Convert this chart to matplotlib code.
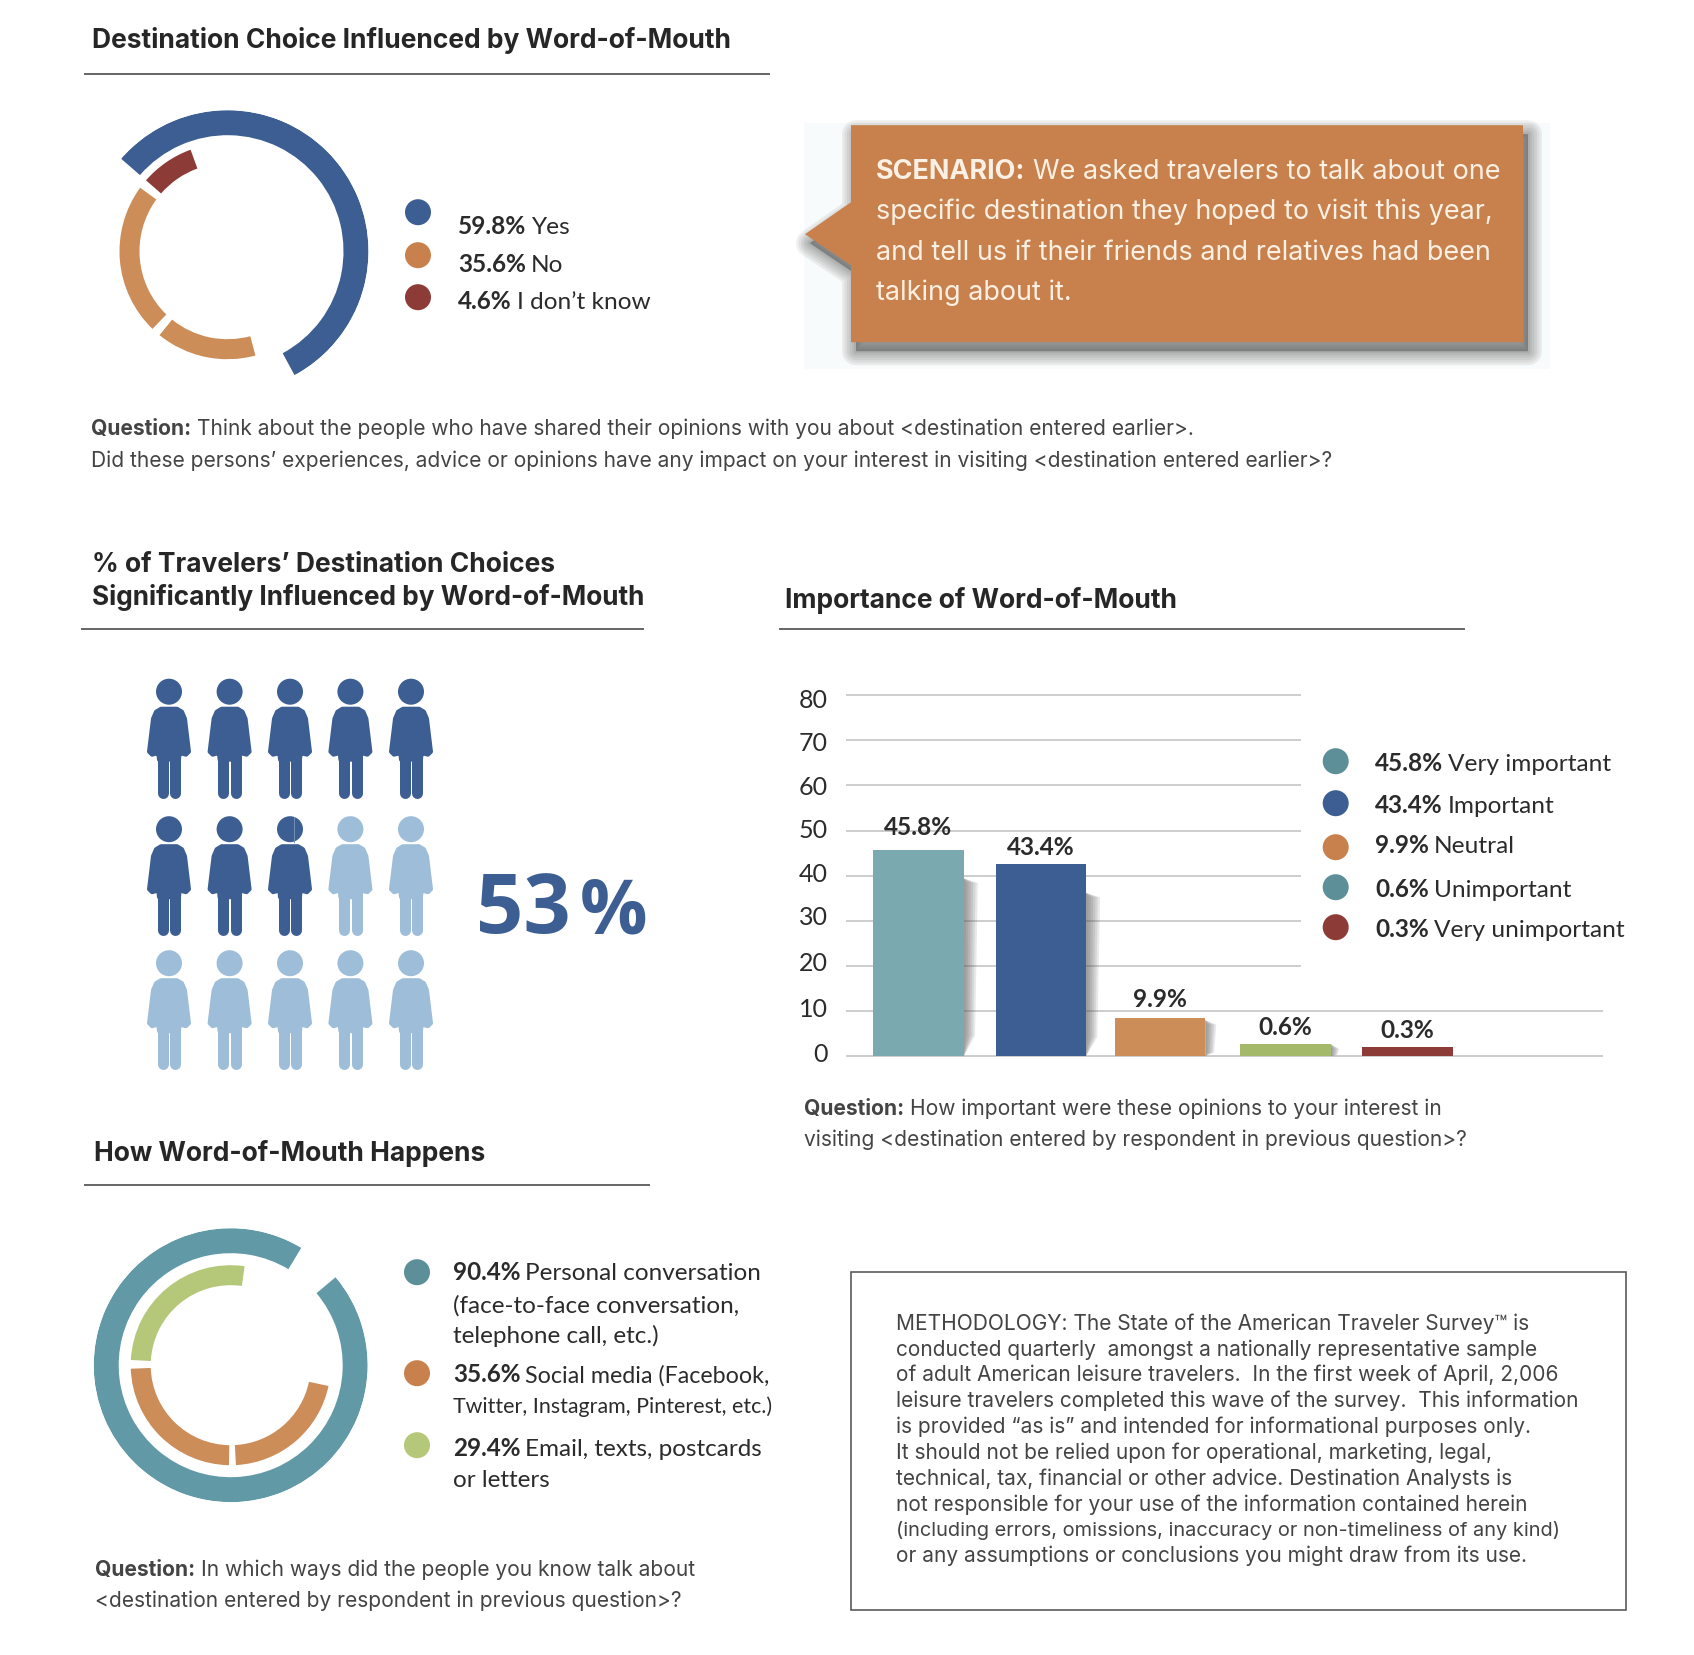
import numpy as np
import matplotlib
matplotlib.use('Agg')
import matplotlib.pyplot as plt
from matplotlib.patches import Polygon, Rectangle, Circle

# Chart values
choice_labels = ['Yes', 'No', "I don\u2019t know"]
choice_values = ['59.8%', '35.6%', '4.6%']
# ring arcs as drawn, in degrees (start, span)
yes_arcs = [(-61.6, 200.6)]
no_arcs = [(144, 82), (231, 54)]
dk_arcs = [(110, 29)]

icons_total = 15
icons_filled = 8
icons_value = '53'
icons_unit = '%'

bar_labels = ['Very important', 'Important', 'Neutral', 'Unimportant', 'Very unimportant']
bar_texts = ['45.8%', '43.4%', '9.9%', '0.6%', '0.3%']
bar_heights = [45.8, 42.6, 8.4, 2.8, 2.0]
y_ticks = [0, 10, 20, 30, 40, 50, 60, 70, 80]

personal_arcs = [(59, 341)]
social_arcs = [(182, 87), (273, 75)]
email_arcs = [(82, 95)]

BLUE = '#3C5E92'
LIGHT = '#9DBDD8'
ORANGE = '#C8814C'
RING_ORANGE = '#CC8D58'
RED = '#8C3B36'
TEAL = '#619AA6'
TEAL_DOT = '#5C8F97'
TEAL_BAR = '#7AA9B0'
GREEN_BAR = '#A4BA6A'
GREEN = '#B5C87A'
TEXT = '#2b2b2b'
GREY = '#444444'

HEAD = 'Inter'
BODY = 'Inter'
LEG = 'Lato'

W, H = 1694, 1656
PT = 0.72  # points per pixel at dpi 100
DY = 1.2   # everything sits a touch lower than my first read

fig = plt.figure(figsize=(W / 100, H / 100), dpi=100, facecolor='white')
ax = fig.add_axes([0, 0, 1, 1])
ax.set_xlim(0, W)
ax.set_ylim(H - DY, -DY)
ax.axis('off')
renderer = fig.canvas.get_renderer()


def px_axes(x0, y0, x1, y1, **kw):
    return fig.add_axes([x0 / W, 1 - (y1 + DY) / H, (x1 - x0) / W, (y1 - y0) / H], **kw)


def rule(x0, x1, y):
    ax.plot([x0, x1], [y, y], color=GREY, lw=1.6 * PT, solid_capstyle='butt')


def heading(x, y, s, size=26.4):
    ax.text(x, y, s, fontsize=size * PT, fontweight='bold', family=HEAD, color='#262626', va='baseline')


def rich(x, y, bold, rest, size, family, color=TEXT, gap=0.2, rest_size=None):
    t = ax.text(x, y, bold, fontsize=size * PT, fontweight='bold', family=family, color=color, va='baseline')
    x1 = t.get_window_extent(renderer).x1
    ax.text(x1 + size * gap, y, rest, fontsize=(rest_size or size) * PT, family=family, color=color, va='baseline')


def dot(x, y, c):
    ax.add_patch(Circle((x, y), 13, facecolor=c, edgecolor='none'))


def ring(cx, cy, R, arcs):
    p = px_axes(cx - R, cy - R, cx + R, cy + R, projection='polar')
    p.set_ylim(0, R)
    p.axis('off')
    p.patch.set_alpha(0)
    for spans, r0, r1, c in arcs:
        for start, span in spans:
            p.bar(np.radians(start + span / 2), r1 - r0, width=np.radians(span), bottom=r0, color=c, linewidth=0)


# --- top donut
heading(92, 47, 'Destination Choice Influenced by Word-of-Mouth')
rule(84, 770, 73.5)
ring(227.5, 251, 141, [(yes_arcs, 116, 141, BLUE), (no_arcs, 88, 108, RING_ORANGE), (dk_arcs, 88, 108, RED)])
for yd, yt, val, lab, c in zip([212, 255, 297], [233, 271, 308], choice_values, choice_labels, [BLUE, ORANGE, RED]):
    dot(418, yd, c)
    rich(458, yt, val, lab, 24.4, LEG)

# --- scenario box
ax.add_patch(Rectangle((804, 123), 746, 246, facecolor='#F8FBFB', edgecolor='none'))
box = [(851, 125), (1523, 125), (1523, 342), (851, 342), (851, 265), (805, 234), (851, 202)]
shadow = [(x + 5, y + 9) for x, y in box]
for lw in [28, 23, 18, 13, 8, 4]:
    ax.add_patch(Polygon(shadow, closed=True, facecolor='#3a3a3a', edgecolor='#3a3a3a', lw=lw * PT,
                         alpha=0.08, joinstyle='round'))
ax.add_patch(Polygon(box, closed=True, facecolor=ORANGE, edgecolor='none'))
scen_color = '#FBF0E4'
rich(876, 178, 'SCENARIO:', 'We asked travelers to talk about one', 27, BODY, scen_color, 0.28)
for y, s in zip([218, 259, 299], ['specific destination they hoped to visit this year,',
                                  'and tell us if their friends and relatives had been',
                                  'talking about it.']):
    ax.text(876, y, s, fontsize=27 * PT, family=BODY, color=scen_color, va='baseline')

# --- question 1
rich(91, 434, 'Question:', 'Think about the people who have shared their opinions with you about <destination entered earlier>.',
     21, BODY, GREY, 0.27)
ax.text(91, 466, 'Did these persons\u2019 experiences, advice or opinions have any impact on your interest in visiting '
        '<destination entered earlier>?', fontsize=21 * PT, family=BODY, color=GREY, va='baseline')

# --- people icons
heading(92, 571, '% of Travelers\u2019 Destination Choices')
heading(92, 604, 'Significantly Influenced by Word-of-Mouth', size=26.2)
rule(81, 644, 629)


def person(x, y, c):
    ax.add_patch(Circle((x, y), 13, facecolor=c, edgecolor='none'))
    body = [(x - 8, y + 17), (x + 8, y + 17), (x + 13, y + 20), (x + 16, y + 27), (x + 20, y + 60), (x + 17, y + 63),
            (x + 13, y + 62), (x + 11, y + 58), (x + 10, y + 68), (x - 10, y + 68), (x - 11, y + 58),
            (x - 13, y + 62), (x - 17, y + 63), (x - 20, y + 60), (x - 16, y + 27), (x - 13, y + 20)]
    ax.add_patch(Polygon(body, closed=True, facecolor=c, edgecolor=c, lw=4 * PT, joinstyle='round'))
    for dx in (-6.4, 6.4):
        ax.plot([x + dx, x + dx], [y + 62, y + 101], color=c, lw=11 * PT, solid_capstyle='round')


col_x = [169, 229.6, 290, 350.4, 411]
row_y = [691.5, 829, 963]
n = 0
for yy in row_y:
    for xx in col_x:
        person(xx, yy, BLUE if n < icons_filled else LIGHT)
        n += 1
        if n == icons_filled:
            # the part-filled figure shows a hairline on its head
            ax.plot([xx + 4, xx + 4], [yy - 12.5, yy + 12.5], color='#6F8FB5', lw=1 * PT)
ax.text(476, 932, icons_value, fontsize=83 * PT, fontweight='bold', family='Open Sans', color=BLUE, va='baseline')
ax.text(580, 932, icons_unit, fontsize=75 * PT, fontweight='bold', family='Open Sans', color=BLUE, va='baseline')

# --- bar chart
heading(785, 607, 'Importance of Word-of-Mouth')
rule(779, 1465, 629)
b = px_axes(846, 695, 1603, 1056)
b.set_xlim(-0.593, 5.597)
b.set_ylim(0, 80)
b.patch.set_alpha(0)
for s in b.spines.values():
    s.set_visible(False)
b.set_xticks([])
b.set_yticks(y_ticks)
b.set_yticklabels([])
b.tick_params(axis='y', length=0)
# the printed numbers drift a little from the grid lines
tick_shift = [-3, -3, -3, -4, -2, -1, 1, 2, 4.3]
for v, off in zip(y_ticks, tick_shift):
    b.annotate(str(v), (-0.593, v), xytext=(-18 * PT, -off * PT), textcoords='offset points', ha='right',
               va='center', fontsize=25 * PT, family=LEG, color=TEXT, annotation_clip=False)
    b.plot([-0.593, 5.597 if v <= 10 else 3.13], [v, v], color='#C9C9C9', lw=1.8 * PT, zorder=1, clip_on=False,
           solid_capstyle='butt')
xs = [0, 1, 1.975, 3, 4]
bar_cols = [TEAL_BAR, BLUE, RING_ORANGE, GREEN_BAR, RED]
for x, h in zip(xs[:4], bar_heights[:4]):
    right = x + 0.37
    top = h - 6.4 if h > 20 else h * 0.95
    w = 0.115 if h > 20 else (0.09 if h > 5 else 0.07)
    for k in range(1, 7):
        wk = w * k / 6
        shape = [(right, top), (right + wk, top - 1), (right + wk * 0.8, h * 0.1), (right, 0)]
        b.add_patch(Polygon(shape, closed=True, facecolor='#555555', edgecolor='none', alpha=0.13, zorder=2))
b.bar(xs, bar_heights, width=0.74, color=bar_cols, zorder=3)
for x, h, s, pad in zip(xs, bar_heights, bar_texts, [16, 10, 12, 10, 10]):
    b.annotate(s, (x, h), xytext=(0, pad * PT), textcoords='offset points', ha='center', va='baseline',
               fontsize=24.4 * PT, fontweight='bold', family=LEG, color=TEXT, zorder=5)
for yd, yt, val, lab, c in zip([761, 803, 847, 887, 927], [770, 811.5, 852, 896, 936], bar_texts, bar_labels,
                               [TEAL_DOT, BLUE, ORANGE, TEAL_DOT, RED]):
    dot(1335.7, yd, c)
    rich(1375, yt, val, lab, 24.4, LEG)
rich(804, 1114, 'Question:', 'How important were these opinions to your interest in', 21, BODY, GREY, 0.27)
ax.text(804, 1145, 'visiting <destination entered by respondent in previous question>?', fontsize=21 * PT,
        family=BODY, color=GREY, va='baseline')

# --- bottom donut
heading(94, 1160, 'How Word-of-Mouth Happens')
rule(84, 650, 1185)
ring(230.7, 1365, 137, [(personal_arcs, 112, 137, TEAL), (social_arcs, 80, 100, RING_ORANGE),
                        (email_arcs, 80, 100, GREEN)])
dot(417, 1272, TEAL_DOT)
dot(417, 1373, ORANGE)
dot(417, 1445, GREEN)
rich(453, 1279, '90.4%', 'Personal conversation', 24.2, LEG)
ax.text(453, 1311, '(face-to-face conversation,', fontsize=24.2 * PT, family=LEG, color=TEXT, va='baseline')
ax.text(453, 1342, 'telephone call, etc.)', fontsize=24.2 * PT, family=LEG, color=TEXT, va='baseline')
rich(453, 1381, '35.6%', 'Social media (Facebook,', 24.2, LEG, rest_size=23.2)
ax.text(453, 1412, 'Twitter, Instagram, Pinterest, etc.)', fontsize=21.4 * PT, family=LEG, color=TEXT, va='baseline')
rich(453, 1455, '29.4%', 'Email, texts, postcards', 24.2, LEG)
ax.text(453, 1486, 'or letters', fontsize=24.2 * PT, family=LEG, color=TEXT, va='baseline')
rich(95, 1575, 'Question:', 'In which ways did the people you know talk about', 21, BODY, GREY, 0.27)
ax.text(95, 1606, '<destination entered by respondent in previous question>?', fontsize=21 * PT, family=BODY,
        color=GREY, va='baseline')

# --- methodology
ax.add_patch(Rectangle((851, 1272), 775, 338, facecolor='none', edgecolor='#555555', lw=1.6 * PT))
method_lines = [
    'METHODOLOGY: The State of the American Traveler Survey\u2122 is',
    'conducted quarterly  amongst a nationally representative sample',
    'of adult American leisure travelers.  In the first week of April, 2,006',
    'leisure travelers completed this wave of the survey.  This information',
    'is provided \u201cas is\u201d and intended for informational purposes only.',
    'It should not be relied upon for operational, marketing, legal,',
    'technical, tax, financial or other advice. Destination Analysts is',
    'not responsible for your use of the information contained herein',
    '(including errors, omissions, inaccuracy or non-timeliness of any kind)',
    'or any assumptions or conclusions you might draw from its use.',
]
for i, s in enumerate(method_lines):
    ax.text(896, 1328.5 + 25.85 * i, s, fontsize=(20 if i == 8 else 20.9) * PT, family=BODY, color=GREY, va='baseline')

fig.savefig('out.png', dpi=100)
